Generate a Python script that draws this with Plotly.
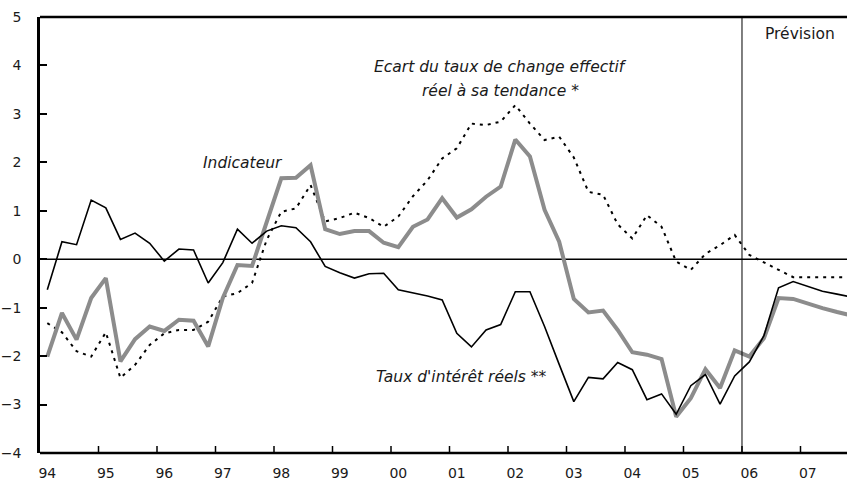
import plotly.graph_objects as go

# Quarterly data 1994Q1 .. 2007Q4
years = ["94", "95", "96", "97", "98", "99", "00", "01", "02", "03", "04", "05", "06", "07"]
y_ticks = [-4, -3, -2, -1, 0, 1, 2, 3, 4, 5]

taux_interet = [-0.63, 0.36, 0.30, 1.22, 1.06, 0.41, 0.54, 0.33,
                -0.04, 0.21, 0.19, -0.49, -0.07, 0.62, 0.33, 0.58,
                0.69, 0.65, 0.36, -0.15, -0.28, -0.39, -0.30, -0.29,
                -0.63, -0.69, -0.76, -0.84, -1.53, -1.81, -1.46, -1.35,
                -0.67, -0.67, -1.39, -2.17, -2.94, -2.44, -2.47, -2.13,
                -2.28, -2.90, -2.78, -3.20, -2.61, -2.38, -2.99, -2.41,
                -2.12, -1.58, -0.59, -0.46, -0.56, -0.66, -0.72, -0.78]

indicateur = [-2.01, -1.11, -1.66, -0.80, -0.39, -2.11, -1.65, -1.39,
              -1.48, -1.25, -1.27, -1.80, -0.80, -0.12, -0.14, 0.74,
              1.67, 1.68, 1.94, 0.62, 0.52, 0.58, 0.58, 0.34,
              0.25, 0.67, 0.82, 1.26, 0.86, 1.03, 1.29, 1.50,
              2.47, 2.12, 1.02, 0.36, -0.82, -1.10, -1.06, -1.46,
              -1.92, -1.97, -2.06, -3.25, -2.87, -2.27, -2.66, -1.88,
              -2.01, -1.63, -0.80, -0.82, -0.92, -1.01, -1.09, -1.16]

ecart_change = [-1.32, -1.51, -1.90, -2.01, -1.51, -2.45, -2.18, -1.77,
                -1.53, -1.46, -1.46, -1.29, -0.77, -0.70, -0.49, 0.40,
                0.98, 1.05, 1.53, 0.78, 0.85, 0.96, 0.85, 0.67,
                0.88, 1.30, 1.63, 2.08, 2.29, 2.80, 2.77, 2.84,
                3.18, 2.80, 2.46, 2.53, 2.10, 1.39, 1.33, 0.72,
                0.43, 0.91, 0.67, -0.05, -0.22, 0.11, 0.29, 0.50,
                0.09, -0.07, -0.22, -0.37, -0.37, -0.37, -0.37, -0.37]

n = len(indicateur)
xq = [i + 0.5 for i in range(n)]          # centre of each quarter
forecast_start = 4 * years.index("06")     # boundary 2005Q4 / 2006Q1

FONT = "'DejaVu Sans', sans-serif"
TXT = "#1a1a1a"
W, H = 847, 490
ML, MR, MT, MB = 40, 0, 17, 37
PW, PH = W - ML - MR, H - MT - MB
TICK = 7

fig = go.Figure()
fig.add_trace(go.Scatter(x=xq, y=ecart_change, mode="lines",
                         line=dict(color="black", width=2, dash="3px,5px"),
                         name="Ecart du taux de change effectif réel à sa tendance *"))
fig.add_trace(go.Scatter(x=xq, y=indicateur, mode="lines",
                         line=dict(color="#8c8c8c", width=4),
                         name="Indicateur"))
fig.add_trace(go.Scatter(x=xq, y=taux_interet, mode="lines",
                         line=dict(color="black", width=1.6),
                         name="Taux d'intérêt réels **"))

# zero line and forecast separator
fig.add_shape(type="line", xref="paper", x0=0, x1=1, yref="y", y0=0, y1=0,
              line=dict(color="black", width=1.5), layer="below")
fig.add_shape(type="line", xref="x", x0=forecast_start, x1=forecast_start,
              yref="paper", y0=0, y1=1, line=dict(color="black", width=1))

# frame (bottom, top)
for y0 in (0, 1):
    fig.add_shape(type="line", xref="paper", yref="paper", x0=0, x1=1, y0=y0, y1=y0,
                  line=dict(color="black", width=2.5))

# inside tick marks on the year boundaries
for k in range(1, len(years)):
    fig.add_shape(type="line", xref="x", yref="paper", x0=4 * k, x1=4 * k,
                  y0=0, y1=TICK / PH, line=dict(color="black", width=1.5))

fig.update_layout(
    width=W, height=H,
    margin=dict(l=ML, r=MR, t=MT, b=MB),
    paper_bgcolor="white", plot_bgcolor="white",
    showlegend=False,
    font=dict(family=FONT, size=14, color=TXT),
    xaxis=dict(
        range=[0, 55.18],
        tickmode="array",
        tickvals=[4 * k + 0.5 for k in range(len(years))],
        ticktext=years,
        ticks="", showgrid=False, zeroline=False, showline=False,
        ticklabelstandoff=10,
        tickfont=dict(size=14, color=TXT),
    ),
    yaxis=dict(
        range=[-4, 5], tickvals=y_ticks,
        ticks="inside", ticklen=TICK, tickwidth=1.5, tickcolor="black",
        showgrid=False, zeroline=False,
        showline=True, linecolor="black", linewidth=2.5,
        ticklabelstandoff=13,
        tickfont=dict(size=14, color=TXT),
    ),
)

annots = [
    (243, 163, "<i>Indicateur</i>"),
    (500, 67, "<i>Ecart du taux de change effectif</i>"),
    (500, 91, "<i>réel à sa tendance *</i>"),
    (461, 377, "<i>Taux d'intérêt réels **</i>"),
    (800, 34, "Prévision"),
]
for px, py, t in annots:
    fig.add_annotation(x=(px - ML) / PW, y=1 - (py - MT) / PH, xref="paper", yref="paper",
                       text=t, showarrow=False, xanchor="center", yanchor="middle",
                       font=dict(size=15.5, color=TXT, family=FONT))

fig.write_html("out.html", config={"displayModeBar": False},
               post_script="document.body.style.margin='0';")
